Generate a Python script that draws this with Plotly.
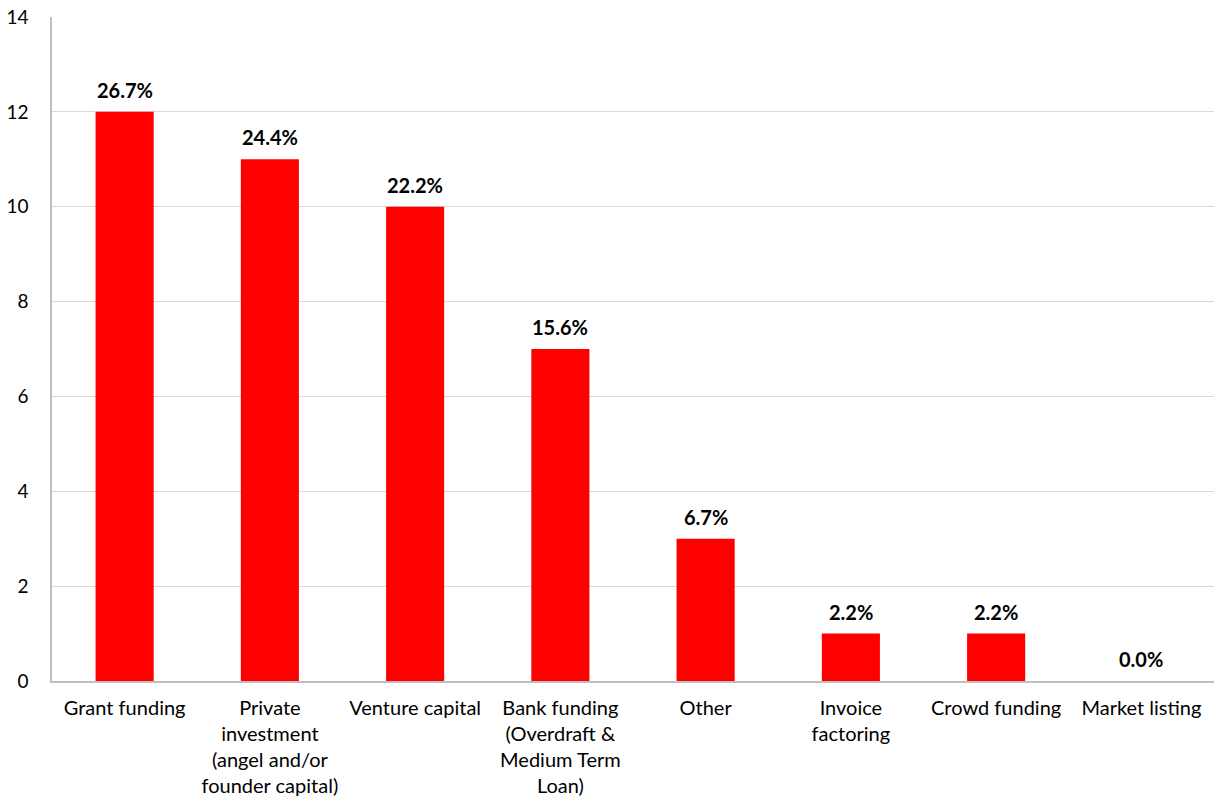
import plotly.graph_objects as go

categories = [
    "Grant funding",
    "Private<br>investment<br>(angel and/or<br>founder capital)",
    "Venture capital",
    "Bank funding<br>(Overdraft &<br>Medium Term<br>Loan)",
    "Other",
    "Invoice<br>factoring",
    "Crowd funding",
    "Market listing",
]
counts = [12, 11, 10, 7, 3, 1, 1, 0]
pct_labels = ["26.7%", "24.4%", "22.2%", "15.6%", "6.7%", "2.2%", "2.2%", "0.0%"]
y_ticks = [0, 2, 4, 6, 8, 10, 12, 14]

FONT = "Lato, 'Open Sans', sans-serif"

fig = go.Figure()
fig.add_trace(go.Bar(
    x=categories,
    y=counts,
    marker=dict(color="#ff0000", line=dict(width=0)),
    hoverinfo="skip",
))

for c, v, t in zip(categories, counts, pct_labels):
    fig.add_annotation(
        x=c, y=v, text="<b>" + t + "</b>", showarrow=False,
        yanchor="bottom", yshift=8,
        font=dict(family=FONT, size=20, color="#000000"),
    )

fig.update_layout(
    width=1214, height=800,
    margin=dict(l=52, r=0, t=17, b=119),
    paper_bgcolor="white", plot_bgcolor="white",
    bargap=0.6,
    showlegend=False,
    font=dict(family=FONT, size=20, color="#000000"),
)
fig.update_xaxes(
    automargin=False,
    showline=True, linecolor="#bfbfbf", linewidth=1.5,
    showgrid=False, ticks="", ticklabelstandoff=8,
    tickfont=dict(family=FONT, size=20, color="#000000"),
    mirror=False,
)
fig.update_yaxes(
    automargin=False, ticklabeloverflow="allow",
    range=[0, 14], tickvals=y_ticks, showgrid=True, gridcolor="#d9d9d9", gridwidth=1.3,
    showline=True, linecolor="#bfbfbf", linewidth=1.5, zeroline=False,
    ticks="", ticklabelstandoff=18, tickfont=dict(family=FONT, size=19, color="#000000"),
)

fig.write_html(
    "out.html",
    config={"displayModeBar": False},
    post_script="document.body.style.margin='0';document.body.style.overflow='hidden';",
)
